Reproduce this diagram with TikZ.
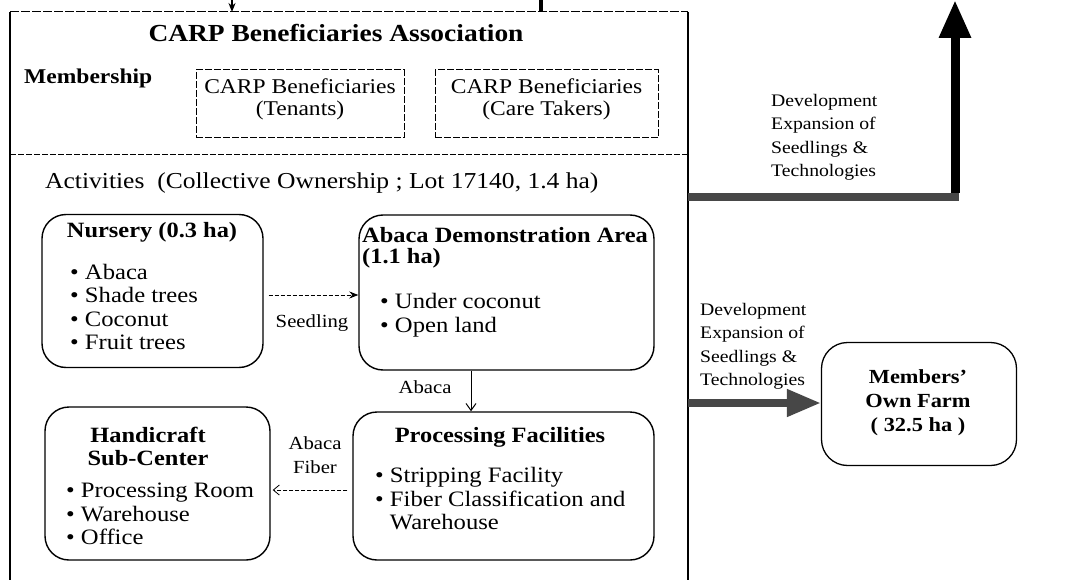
\documentclass[tikz,border=0pt]{standalone}
\usepackage{fontspec}
\setmainfont[FakeStretch=1.12]{Liberation Serif}
\usetikzlibrary{arrows.meta}
\begin{document}
\begin{tikzpicture}[x=1pt,y=-1pt,
  frameline/.style={line width=2pt},
  membox/.style={draw, dashed, dash pattern=on 7pt off 2pt, line width=1pt, inner sep=0pt},
  rbox/.style={draw, line width=1.4pt, rounded corners=24pt, inner sep=0pt},
  boxtitle/.style={font=\bfseries\fontsize{21.8}{23}\selectfont, inner sep=0pt},
  bullets/.style={font=\fontsize{22}{23.5}\selectfont, align=left, inner sep=0pt, anchor=west},
  flowlabel/.style={font=\fontsize{18.5}{24}\selectfont, align=center, inner sep=0pt},
  devlabel/.style={font=\fontsize{17.6}{23.5}\selectfont, align=left, inner sep=0pt, anchor=west},
  bigbar/.style={line width=8pt, black!72},
]
\useasboundingbox (0,0) rectangle (1078,580);

% association frame: solid sides, dashed top and divider
\coordinate (ftl) at (10,12);
\coordinate (ftr) at (688,12);
\coordinate (fbl) at (10,580);
\coordinate (fbr) at (688,580);
\draw[frameline] (ftl) -- (fbl);
\draw[line width=2.6pt] (ftr) -- (fbr);
\draw[line width=1pt, dash pattern=on 9pt off 2pt] (ftl) -- (ftr);
\draw[line width=1pt, dash pattern=on 6pt off 2pt] (10,155) -- (688,155);

% incoming links at the top edge
\coordinate (inA) at (232,0);
\coordinate (inAend) at (232,12);
\draw[line width=1.5pt, -{Stealth[length=9pt,width=7pt]}] (inA) -- (inAend);
\coordinate (inB) at (541,0);
\coordinate (inBend) at (541,12);
\draw[line width=3.5pt] (inB) -- (inBend);

% header
\node[font=\bfseries\fontsize{24.5}{26}\selectfont, inner sep=0pt] (title) at (336,33) {CARP Beneficiaries Association};
\node[font=\bfseries\fontsize{21}{22}\selectfont, inner sep=0pt, anchor=west] (member) at (24,78) {Membership};

\node[membox, minimum width=208pt, minimum height=68pt] (tenants) at (300,104) {};
\node[font=\fontsize{21}{22}\selectfont, align=center, inner sep=0pt] (tenantsT) at (300,99) {CARP Beneficiaries\\(Tenants)};
\node[membox, minimum width=223pt, minimum height=68pt] (carers) at (546.5,104) {};
\node[font=\fontsize{21}{22}\selectfont, align=center, inner sep=0pt] (carersT) at (546.5,99) {CARP Beneficiaries\\(Care Takers)};

\node[font=\fontsize{22.8}{24}\selectfont, inner sep=0pt, anchor=west] (activities) at (45,183) {Activities\ \ (Collective Ownership ; Lot 17140, 1.4 ha)};

% activity boxes
\node[rbox, minimum width=221pt, minimum height=153pt] (nursery) at (152.5,291) {};
\node[boxtitle] (nurseryT) at (152,232) {Nursery\ (0.3 ha)};
\node[bullets] (nurseryL) at (70,307) {• Abaca\\• Shade trees\\• Coconut\\• Fruit trees};

\node[rbox, minimum width=295pt, minimum height=155pt] (demo) at (506.5,292.5) {};
\node[boxtitle, align=left, anchor=north west, font=\bfseries\fontsize{21.8}{21}\selectfont] (demoT) at (362,227) {Abaca Demonstration Area\\(1.1 ha)};
\node[bullets] (demoL) at (380,315) {• Under coconut\\• Open land};

\node[rbox, minimum width=225pt, minimum height=153pt] (handi) at (157.5,483.5) {};
\node[boxtitle, align=center] (handiT) at (148,446.5) {Handicraft\\Sub-Center};
\node[bullets] (handiL) at (66,514) {• Processing Room\\• Warehouse\\• Office};

\node[rbox, minimum width=301pt, minimum height=148pt] (proc) at (503.5,486) {};
\node[boxtitle] (procT) at (500,437) {Processing Facilities};
\node[bullets] (procL) at (375,499) {• Stripping Facility\\• Fiber Classification and\\\phantom{• }Warehouse};

% flows between activities
\coordinate (seedY) at (0,295);
\draw[line width=0.8pt, dash pattern=on 4pt off 2pt, -{Stealth[length=9pt,width=7pt]}, shorten <=5pt]
  (nursery.east |- seedY) -- (demo.west |- seedY);
\node[flowlabel] (seedL) at (312,323) {Seedling};

\coordinate (abacaX) at (471,0);
\draw[line width=1pt, -{Straight Barb[length=7pt,width=10pt]}] (demo.south -| abacaX) -- (proc.north -| abacaX);
\node[flowlabel] (abacaL) at (425,387) {Abaca};

\coordinate (fiberY) at (0,490);
\draw[line width=0.8pt, dash pattern=on 4pt off 2pt, -{Straight Barb[length=6pt,width=10pt]}, shorten <=5pt, shorten >=2pt]
  (proc.west |- fiberY) -- (handi.east |- fiberY);
\node[flowlabel] (fiberL) at (315,455) {Abaca\\Fiber};

% outward development flows
\node[rbox, line width=1.3pt, rounded corners=26pt, minimum width=195pt, minimum height=123pt] (farm) at (919,404) {};
\node[font=\bfseries\fontsize{20}{24}\selectfont, align=center, inner sep=0pt] (farmT) at (918,403) {Members'\\Own Farm\\( 32.5 ha )};

\coordinate (upStart) at (688,197);
\coordinate (upCorner) at (955,197);
\coordinate (upEnd) at (955,0);
\draw[bigbar, line width=8.5pt] (upStart) -- ([xshift=4pt]upCorner);
\draw[line width=9pt, -{Triangle[length=38pt,width=30pt]}] ([yshift=4pt]upCorner) -- (upEnd);
\node[devlabel] (devUp) at (771,137.5) {Development\\Expansion of\\Seedlings \&\\Technologies};

\coordinate (farmY) at (0,403);
\draw[bigbar, line width=7.5pt, -{Triangle[length=34pt,width=26pt]}] (fbr |- farmY) -- (farm.west |- farmY);
\node[devlabel] (devFarm) at (700,346.5) {Development\\Expansion of\\Seedlings \&\\Technologies};
\end{tikzpicture}
\end{document}
